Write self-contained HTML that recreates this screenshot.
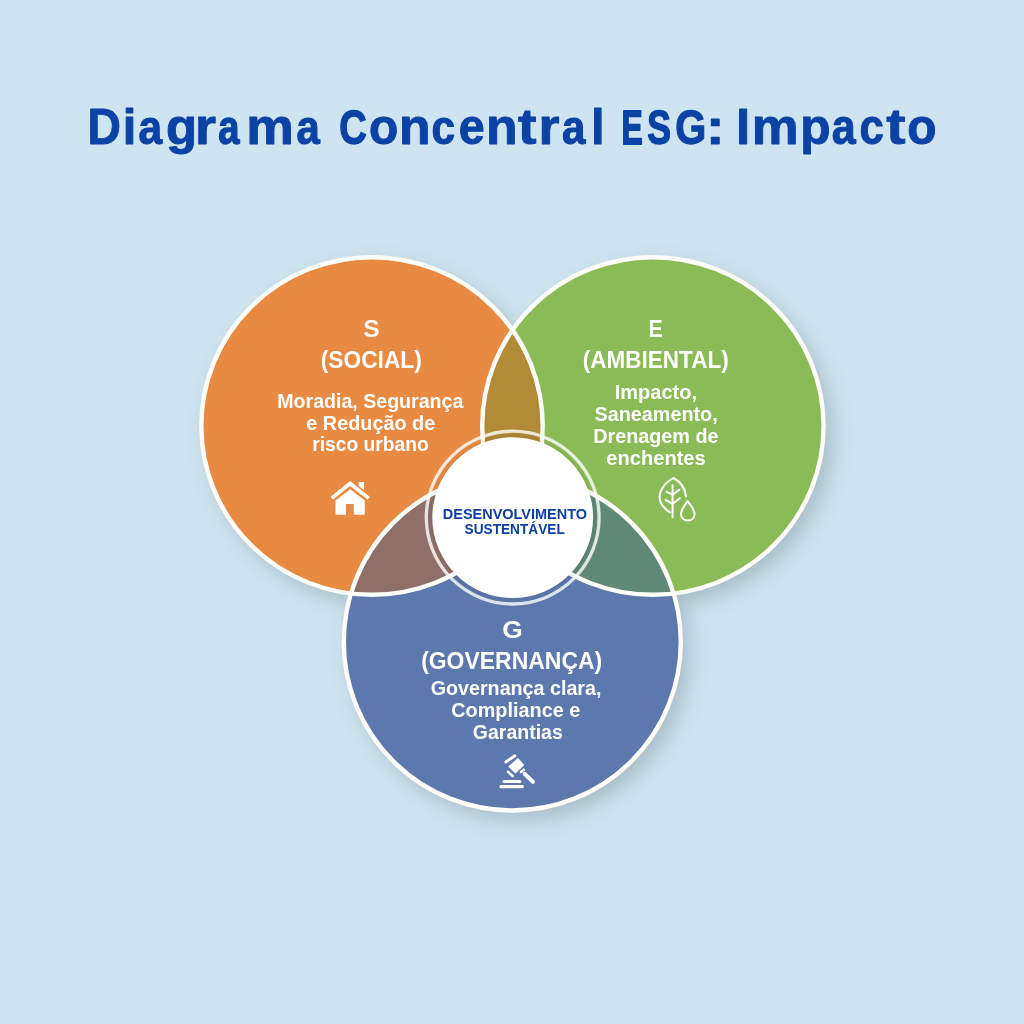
<!DOCTYPE html>
<html><head><meta charset="utf-8">
<style>
html,body{margin:0;padding:0;width:1024px;height:1024px;overflow:hidden;background:#cee4f0;}
svg{display:block;will-change:transform}
text{font-family:"Liberation Sans",sans-serif;font-weight:700;}
</style></head>
<body>
<svg width="1024" height="1024" viewBox="0 0 1024 1024">
<defs>
  <filter id="sh" x="-20%" y="-20%" width="140%" height="140%">
    <feGaussianBlur stdDeviation="11"/>
  </filter>
  <filter id="csh" x="-20%" y="-20%" width="140%" height="140%">
    <feGaussianBlur stdDeviation="1.5"/>
  </filter>
  <clipPath id="cS"><ellipse cx="372" cy="426" rx="170.7" ry="168.8"/></clipPath>
  <clipPath id="cE"><ellipse cx="652.9" cy="426" rx="170.7" ry="168.8"/></clipPath>
  <clipPath id="cG"><circle cx="512.3" cy="642" r="168.5"/></clipPath>
</defs>
<rect width="1024" height="1024" fill="#cee4f0"/>

<!-- shadows -->
<g filter="url(#sh)" fill="#6d838c" opacity="0.42">
  <ellipse cx="380" cy="435" rx="171" ry="169"/>
  <ellipse cx="661" cy="435" rx="171" ry="169"/>
  <circle cx="520" cy="651" r="169"/>
</g>
<!-- main fills -->
<ellipse cx="372" cy="426" rx="170.7" ry="168.8" fill="#e88a42"/>
<ellipse cx="652.9" cy="426" rx="170.7" ry="168.8" fill="#8bbb56"/>
<circle cx="512.3" cy="642" r="168.5" fill="#5c78ad"/>

<!-- overlaps -->
<g clip-path="url(#cS)"><ellipse cx="652.9" cy="426" rx="170.7" ry="168.8" fill="#b18b35"/></g>
<g clip-path="url(#cS)"><circle cx="512.3" cy="642" r="168.5" fill="#8f7068"/></g>
<g clip-path="url(#cE)"><circle cx="512.3" cy="642" r="168.5" fill="#608877"/></g>

<!-- white borders -->
<g fill="none" stroke="#fdfdf9" stroke-width="4.4">
  <ellipse cx="372" cy="426" rx="170.7" ry="168.8"/>
  <ellipse cx="652.9" cy="426" rx="170.7" ry="168.8"/>
  <circle cx="512.3" cy="642" r="168.5"/>
</g>

<!-- center -->
<circle cx="512.7" cy="517.6" r="86.4" fill="none" stroke="#ffffff" stroke-opacity="0.8" stroke-width="3.3"/>
<circle cx="512.7" cy="517.6" r="81.5" fill="none" stroke="#000" stroke-opacity="0.08" stroke-width="3" filter="url(#csh)"/>
<circle cx="512.7" cy="517.6" r="80.4" fill="#ffffff"/>

<!-- TEXTS -->
<text x="87.50" y="144.3" font-size="49.3" font-weight="700" fill="#0b42a5" stroke="#0b42a5" stroke-width="0.90" stroke-linejoin="round" textLength="33.43" lengthAdjust="spacingAndGlyphs">D</text>
<text x="122.78" y="144.3" font-size="49.3" font-weight="700" fill="#0b42a5" stroke="#0b42a5" stroke-width="0.90" stroke-linejoin="round" textLength="13.60" lengthAdjust="spacingAndGlyphs">i</text>
<text x="138.56" y="144.202" font-size="49.015" font-weight="700" fill="#0b42a5" stroke="#0b42a5" stroke-width="1.10" stroke-linejoin="round" textLength="23.61" lengthAdjust="spacingAndGlyphs">a</text>
<text x="165.99" y="144.3" font-size="49.3" font-weight="700" fill="#0b42a5" stroke="#0b42a5" stroke-width="0.90" stroke-linejoin="round" textLength="31.04" lengthAdjust="spacingAndGlyphs">g</text>
<text x="194.99" y="144.3" font-size="49.3" font-weight="700" fill="#0b42a5" stroke="#0b42a5" stroke-width="0.90" stroke-linejoin="round" textLength="21.01" lengthAdjust="spacingAndGlyphs">r</text>
<text x="218.32" y="144.066" font-size="48.618" font-weight="700" fill="#0b42a5" stroke="#0b42a5" stroke-width="1.37" stroke-linejoin="round" textLength="21.24" lengthAdjust="spacingAndGlyphs">a</text>
<text x="246.22" y="144.3" font-size="49.3" font-weight="700" fill="#0b42a5" stroke="#0b42a5" stroke-width="0.90" stroke-linejoin="round" textLength="47.59" lengthAdjust="spacingAndGlyphs">m</text>
<text x="296.60" y="144.182" font-size="48.955" font-weight="700" fill="#0b42a5" stroke="#0b42a5" stroke-width="1.14" stroke-linejoin="round" textLength="23.26" lengthAdjust="spacingAndGlyphs">a</text>
<text x="339.15" y="144.058" font-size="48.593" font-weight="700" fill="#0b42a5" stroke="#0b42a5" stroke-width="1.38" stroke-linejoin="round" textLength="27.51" lengthAdjust="spacingAndGlyphs">C</text>
<text x="368.91" y="144.3" font-size="49.3" font-weight="700" fill="#0b42a5" stroke="#0b42a5" stroke-width="0.90" stroke-linejoin="round" textLength="29.26" lengthAdjust="spacingAndGlyphs">o</text>
<text x="399.14" y="144.3" font-size="49.3" font-weight="700" fill="#0b42a5" stroke="#0b42a5" stroke-width="0.90" stroke-linejoin="round" textLength="31.58" lengthAdjust="spacingAndGlyphs">n</text>
<text x="431.43" y="144.199" font-size="49.005" font-weight="700" fill="#0b42a5" stroke="#0b42a5" stroke-width="1.10" stroke-linejoin="round" textLength="23.53" lengthAdjust="spacingAndGlyphs">c</text>
<text x="458.76" y="144.3" font-size="49.3" font-weight="700" fill="#0b42a5" stroke="#0b42a5" stroke-width="0.90" stroke-linejoin="round" textLength="25.98" lengthAdjust="spacingAndGlyphs">e</text>
<text x="485.94" y="144.3" font-size="49.3" font-weight="700" fill="#0b42a5" stroke="#0b42a5" stroke-width="0.90" stroke-linejoin="round" textLength="31.58" lengthAdjust="spacingAndGlyphs">n</text>
<text x="518.09" y="144.3" font-size="49.3" font-weight="700" fill="#0b42a5" stroke="#0b42a5" stroke-width="0.90" stroke-linejoin="round" textLength="18.52" lengthAdjust="spacingAndGlyphs">t</text>
<text x="538.59" y="144.3" font-size="49.3" font-weight="700" fill="#0b42a5" stroke="#0b42a5" stroke-width="0.90" stroke-linejoin="round" textLength="21.01" lengthAdjust="spacingAndGlyphs">r</text>
<text x="562.08" y="144.189" font-size="48.975" font-weight="700" fill="#0b42a5" stroke="#0b42a5" stroke-width="1.12" stroke-linejoin="round" textLength="23.38" lengthAdjust="spacingAndGlyphs">a</text>
<text x="590.88" y="144.3" font-size="49.3" font-weight="700" fill="#0b42a5" stroke="#0b42a5" stroke-width="0.90" stroke-linejoin="round" textLength="13.60" lengthAdjust="spacingAndGlyphs">l</text>
<text x="621.39" y="143.861" font-size="48.019" font-weight="700" fill="#0b42a5" stroke="#0b42a5" stroke-width="1.78" stroke-linejoin="round" textLength="21.24" lengthAdjust="spacingAndGlyphs">E</text>
<text x="647.29" y="143.977" font-size="48.357" font-weight="700" fill="#0b42a5" stroke="#0b42a5" stroke-width="1.55" stroke-linejoin="round" textLength="23.70" lengthAdjust="spacingAndGlyphs">S</text>
<text x="675.32" y="144.112" font-size="48.751" font-weight="700" fill="#0b42a5" stroke="#0b42a5" stroke-width="1.28" stroke-linejoin="round" textLength="30.95" lengthAdjust="spacingAndGlyphs">G</text>
<text x="705.99" y="144.3" font-size="49.3" font-weight="700" fill="#0b42a5" stroke="#0b42a5" stroke-width="0.90" stroke-linejoin="round" textLength="18.53" lengthAdjust="spacingAndGlyphs">:</text>
<text x="736.28" y="144.3" font-size="49.3" font-weight="700" fill="#0b42a5" stroke="#0b42a5" stroke-width="0.90" stroke-linejoin="round" textLength="13.80" lengthAdjust="spacingAndGlyphs">I</text>
<text x="751.87" y="144.3" font-size="49.3" font-weight="700" fill="#0b42a5" stroke="#0b42a5" stroke-width="0.90" stroke-linejoin="round" textLength="46.88" lengthAdjust="spacingAndGlyphs">m</text>
<text x="800.18" y="144.3" font-size="49.3" font-weight="700" fill="#0b42a5" stroke="#0b42a5" stroke-width="0.90" stroke-linejoin="round" textLength="30.31" lengthAdjust="spacingAndGlyphs">p</text>
<text x="831.82" y="144.223" font-size="49.074" font-weight="700" fill="#0b42a5" stroke="#0b42a5" stroke-width="1.05" stroke-linejoin="round" textLength="23.97" lengthAdjust="spacingAndGlyphs">a</text>
<text x="859.43" y="144.244" font-size="49.135" font-weight="700" fill="#0b42a5" stroke="#0b42a5" stroke-width="1.01" stroke-linejoin="round" textLength="24.32" lengthAdjust="spacingAndGlyphs">c</text>
<text x="886.36" y="144.3" font-size="49.3" font-weight="700" fill="#0b42a5" stroke="#0b42a5" stroke-width="0.90" stroke-linejoin="round" textLength="19.28" lengthAdjust="spacingAndGlyphs">t</text>
<text x="907.31" y="144.3" font-size="49.3" font-weight="700" fill="#0b42a5" stroke="#0b42a5" stroke-width="0.90" stroke-linejoin="round" textLength="29.26" lengthAdjust="spacingAndGlyphs">o</text>
<text x="363.25" y="337.2" font-size="24.5" font-weight="700" fill="#fff" textLength="16.34" lengthAdjust="spacingAndGlyphs">S</text>
<text x="320.74" y="367.9" font-size="24.5" font-weight="700" fill="#fff" textLength="101.04" lengthAdjust="spacingAndGlyphs">(SOCIAL)</text>
<text x="277.28" y="408.1" font-size="20" font-weight="700" fill="#fff" textLength="186.04" lengthAdjust="spacingAndGlyphs">Moradia, Segurança</text>
<text x="306.26" y="429.5" font-size="20" font-weight="700" fill="#fff" textLength="129.03" lengthAdjust="spacingAndGlyphs">e Redução de</text>
<text x="312.20" y="450.9" font-size="20" font-weight="700" fill="#fff" textLength="116.66" lengthAdjust="spacingAndGlyphs">risco urbano</text>
<text x="648.47" y="337.1" font-size="24.5" font-weight="700" fill="#fff" textLength="14.26" lengthAdjust="spacingAndGlyphs">E</text>
<text x="582.85" y="367.8" font-size="24.5" font-weight="700" fill="#fff" textLength="145.81" lengthAdjust="spacingAndGlyphs">(AMBIENTAL)</text>
<text x="614.75" y="399.3" font-size="20" font-weight="700" fill="#fff" textLength="82.30" lengthAdjust="spacingAndGlyphs">Impacto,</text>
<text x="594.56" y="420.6" font-size="20" font-weight="700" fill="#fff" textLength="123.16" lengthAdjust="spacingAndGlyphs">Saneamento,</text>
<text x="593.26" y="442.6" font-size="20" font-weight="700" fill="#fff" textLength="125.25" lengthAdjust="spacingAndGlyphs">Drenagem de</text>
<text x="606.25" y="464.5" font-size="20" font-weight="700" fill="#fff" textLength="99.50" lengthAdjust="spacingAndGlyphs">enchentes</text>
<text x="502.23" y="638.0" font-size="24.5" font-weight="700" fill="#fff" textLength="20.45" lengthAdjust="spacingAndGlyphs">G</text>
<text x="421.13" y="669.0" font-size="24.5" font-weight="700" fill="#fff" textLength="181.07" lengthAdjust="spacingAndGlyphs">(GOVERNANÇA)</text>
<text x="430.76" y="695.4" font-size="20" font-weight="700" fill="#fff" textLength="170.65" lengthAdjust="spacingAndGlyphs">Governança clara,</text>
<text x="451.26" y="716.9" font-size="20" font-weight="700" fill="#fff" textLength="129.03" lengthAdjust="spacingAndGlyphs">Compliance e</text>
<text x="472.87" y="738.5" font-size="20" font-weight="700" fill="#fff" textLength="89.88" lengthAdjust="spacingAndGlyphs">Garantias</text>
<text x="442.84" y="518.8" font-size="15" font-weight="700" fill="#0b3fa3" textLength="144.16" lengthAdjust="spacingAndGlyphs">DESENVOLVIMENTO</text>
<text x="464.54" y="533.6" font-size="15" font-weight="700" fill="#0b3fa3" textLength="100.23" lengthAdjust="spacingAndGlyphs">SUSTENTÁVEL</text>
<!-- house icon -->
<g fill="#ffffff">
  <path d="M350 481 L370 497 L367.5 499.5 L350 486 L333 499.5 L330.5 497 Z"/>
  <path d="M358.7 482 L364 482 L364 490 L358.7 486 Z"/>
  <path d="M350.3 489.2 L364.8 500.5 L364.8 514.8 L353.8 514.8 L353.8 504 L346 504 L346 514.8 L335.5 514.8 L335.5 500.5 Z"/>
</g>

<!-- leaf icon -->
<g fill="none" stroke="#ffffff" stroke-width="2" stroke-linecap="round" stroke-linejoin="round">
  <path d="M669.9 512.2 C 661 507, 658 499, 660.5 492 C 663 485, 668 481, 673.4 478 C 679 481, 685 487, 686 496.3"/>
  <path d="M672.6 485.3 L672.6 517.3"/>
  <path d="M672.6 494.7 L666.6 491.8 M672.6 494.7 L679.3 489.6"/>
  <path d="M672.6 503.8 L665.6 499.8 M672.6 503.8 L679.8 498.2"/>
  <path d="M687.6 501.1 C 684 506, 681 510, 681 514 C 681 518, 684 520.5, 687.8 520.5 C 691.6 520.5, 694.6 518, 694.6 514 C 694.6 510, 691.5 506, 687.6 501.1 Z"/>
</g>

<!-- gavel icon -->
<g fill="none" stroke="#ffffff" stroke-linecap="round">
  <line x1="505.9" y1="762.0" x2="514.9" y2="755.8" stroke-width="3"/>
  <line x1="507.9" y1="771.8" x2="512.7" y2="776.1" stroke-width="2.5"/>
  <line x1="520.9" y1="772.0" x2="523.8" y2="769.7" stroke-width="2.5"/>
  <line x1="524.6" y1="773.9" x2="532.9" y2="781.8" stroke-width="4"/>
</g>
<g fill="#ffffff">
  <path d="M508.6 766.5 L517.9 758.3 L524.0 765.0 L515.3 773.3 Z" stroke="#fff" stroke-width="0.6" stroke-linejoin="round"/>
  <rect x="502.4" y="780.1" width="19" height="3" rx="1.5"/>
  <rect x="499.4" y="785" width="24.5" height="3.2" rx="1.6"/>
</g>
</svg>
</body></html>
